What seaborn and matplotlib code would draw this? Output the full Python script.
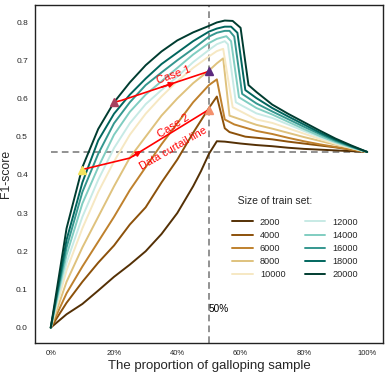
import numpy as np
import pandas as pd
import matplotlib
matplotlib.use("Agg")
import matplotlib.pyplot as plt
import seaborn as sns

# ---------------- data ----------------
sizes = ["2000", "4000", "6000", "8000", "10000", "12000", "14000", "16000", "18000", "20000"]

x_2000 = [0, 5, 10, 15, 20, 25, 30, 35, 40, 45, 47.5, 50, 52.5, 55, 60, 65, 70, 75, 80, 85, 90, 95, 100]
f1_2000 = [0, .035, .062, .097, .133, .165, .2, .245, .3, .37, .41, .455, .488, .487, .482, .478, .475, .471, .468, .466, .464, .462, .46]

x_4000 = [0, 5, 10, 15, 20, 25, 30, 35, 40, 45, 50, 52.5, 55, 56.5, 61.5, 70, 75, 80, 85, 90, 95, 100]
f1_4000 = [0, .065, .12, .17, .215, .27, .315, .38, .44, .51, .575, .605, .522, .512, .50, .493, .487, .482, .477, .472, .466, .46]

x_6000 = [0, 5, 10, 15, 20, 25, 30, 35, 40, 45, 50, 52.5, 55, 58, 65, 70, 75, 80, 85, 90, 95, 100]
f1_6000 = [0, .09, .16, .225, .29, .36, .42, .48, .535, .59, .635, .65, .545, .532, .515, .507, .497, .488, .48, .473, .466, .46]

x_8000 = [0, 5, 10, 15, 20, 25, 30, 35, 40, 45, 50, 52.5, 54.5, 56.5, 65, 70, 75, 80, 85, 90, 95, 100]
f1_8000 = [0, .12, .21, .29, .37, .445, .50, .555, .60, .64, .673, .692, .705, .555, .531, .521, .51, .499, .489, .479, .47, .46]

x_10000 = [0, 5, 10, 15, 20, 25, 30, 35, 40, 45, 50, 52.5, 54.5, 57.5, 65, 70, 75, 80, 85, 90, 95, 100]
f1_10000 = [0, .15, .26, .355, .435, .505, .56, .605, .645, .68, .71, .724, .73, .577, .545, .536, .522, .508, .494, .481, .47, .46]

x_12000 = [0, 5, 10, 15, 20, 25, 30, 35, 40, 45, 50, 52.5, 55, 56, 58.5, 65, 70, 75, 80, 85, 90, 95, 100]
f1_12000 = [0, .17, .29, .387, .47, .535, .585, .622, .657, .695, .727, .742, .75, .742, .59, .561, .549, .532, .515, .499, .484, .471, .46]

x_14000 = [0, 5, 10, 15, 20, 25, 30, 35, 40, 45, 50, 52.5, 55.5, 57, 59.5, 65, 70, 75, 80, 85, 90, 95, 100]
f1_14000 = [0, .19, .325, .42, .505, .565, .61, .645, .68, .715, .745, .756, .763, .75, .603, .575, .558, .539, .52, .502, .486, .472, .46]

x_16000 = [0, 5, 10, 15, 20, 25, 30, 35, 40, 45, 50, 52.5, 55, 56.5, 58, 60.5, 65, 70, 75, 80, 85, 90, 95, 100]
f1_16000 = [0, .21, .355, .455, .535, .59, .635, .668, .70, .73, .762, .772, .777, .777, .762, .612, .587, .566, .546, .526, .507, .489, .474, .46]

x_18000 = [0, 5, 10, 15, 20, 25, 30, 35, 40, 45, 50, 52.5, 55, 57, 59, 61.5, 65, 70, 75, 80, 85, 90, 95, 100]
f1_18000 = [0, .23, .38, .49, .56, .61, .652, .69, .72, .75, .775, .783, .788, .788, .772, .622, .601, .575, .553, .532, .511, .492, .475, .46]

x_20000 = [0, 5, 10, 15, 20, 25, 30, 35, 40, 45, 50, 52.5, 55, 57.5, 60, 62.5, 65, 70, 75, 80, 85, 90, 95, 100]
f1_20000 = [0, .26, .42, .52, .59, .642, .687, .723, .752, .773, .79, .799, .804, .803, .785, .635, .617, .584, .56, .538, .516, .495, .477, .46]

x_ticks = [0, 20, 40, 60, 80, 100]
x_tick_labels = ["0%", "20%", "40%", "60%", "80%", "100%"]
y_ticks = [0.0, 0.1, 0.2, 0.3, 0.4, 0.5, 0.6, 0.7, 0.8]

curtail_x = 50
curtail_y = 0.46

case1_x = [20, 22.4, 50]
case1_y = [0.59, 0.595, 0.671]
case2_x = [10, 25, 50]
case2_y = [0.414, 0.444, 0.571]

# BrBG (ColorBrewer, 10 classes)
palette = ["#543005", "#8c510a", "#bf812d", "#dfc27d", "#f6e8c3",
           "#c7eae5", "#80cdc1", "#35978f", "#01665e", "#003c30"]

# ---------------- build long table ----------------
xs = [x_2000, x_4000, x_6000, x_8000, x_10000, x_12000, x_14000, x_16000, x_18000, x_20000]
ys = [f1_2000, f1_4000, f1_6000, f1_8000, f1_10000, f1_12000, f1_14000, f1_16000, f1_18000, f1_20000]
frames = []
for s, xv, yv in zip(sizes, xs, ys):
    frames.append(pd.DataFrame({"proportion": xv, "f1": yv, "size": s}))
df = pd.concat(frames, ignore_index=True)

# ---------------- style ----------------
sns.set_style("white")
plt.rcParams["font.family"] = ["Liberation Sans", "DejaVu Sans"]

fig = plt.figure(figsize=(3.88, 3.76), dpi=100)
ax = fig.add_axes([0.090, 0.088, 0.897, 0.899])

sns.lineplot(data=df, x="proportion", y="f1", hue="size", hue_order=sizes,
             palette=palette, linewidth=1.4, estimator=None, sort=False, ax=ax)

# curtail lines
ax.axvline(curtail_x, color="#7f7f7f", linestyle=(0, (4, 2.5)), linewidth=1.2, zorder=1)
ax.hlines(curtail_y, 0, 100, color="#7f7f7f", linestyle=(0, (4, 2.5)), linewidth=1.2, zorder=1)

# case arrows
ax.plot(case1_x, case1_y, color="red", linewidth=1.2, zorder=4)
ax.plot(case2_x, case2_y, color="red", linewidth=1.2, zorder=4)
ax.annotate("", xy=(39.2, 0.641), xytext=(35, 0.6297),
            arrowprops=dict(arrowstyle="-|>", color="red", lw=1.2, mutation_scale=8,
                            shrinkA=0, shrinkB=0), zorder=5)
ax.annotate("", xy=(28.7, 0.463), xytext=(26, 0.449),
            arrowprops=dict(arrowstyle="-|>", color="red", lw=1.2, mutation_scale=8,
                            shrinkA=0, shrinkB=0), zorder=5)
ax.plot([case1_x[0]], [case1_y[0]], marker="^", color="#a8405f", markersize=6, linestyle="none", zorder=6)
ax.plot([case1_x[-1]], [case1_y[-1]], marker="^", color="#5c2a7e", markersize=6, linestyle="none", zorder=6)
ax.plot([case2_x[0]], [case2_y[0]], marker="^", color="#f4e35c", markersize=6, linestyle="none", zorder=6)
ax.plot([case2_x[-1]], [case2_y[-1]], marker="^", color="#f4906c", markersize=6, linestyle="none", zorder=6)

ax.text(38.7, 0.66, "Case 1", color="red", fontsize=8, rotation=20,
        ha="center", va="center", rotation_mode="anchor")
ax.text(38.9, 0.528, "Case 2", color="red", fontsize=8, rotation=32,
        ha="center", va="center", rotation_mode="anchor")
ax.text(38.9, 0.47, "Data curtail line", color="red", fontsize=7.8, rotation=30,
        ha="center", va="center", rotation_mode="anchor")
ax.text(50, 0.05, "50%", color="black", fontsize=7.2, ha="left", va="center")

# axes
ax.set_xlim(-5, 105)
ax.set_ylim(-0.04, 0.845)
ax.set_xticks(x_ticks)
ax.set_xticklabels(x_tick_labels, fontsize=5.5)
ax.set_yticks(y_ticks)
ax.set_yticklabels([f"{v:.1f}" for v in y_ticks], fontsize=6)
ax.tick_params(axis="both", length=0, pad=5)
ax.set_xlabel("The proportion of galloping sample", fontsize=9.5, labelpad=2)
ax.set_ylabel("F1-score", fontsize=8.8, labelpad=3)
for sp in ax.spines.values():
    sp.set_color("#222222")
    sp.set_linewidth(1.0)

leg = ax.legend(title="  Size of train set:", ncol=2, frameon=False, fontsize=6.6,
                title_fontsize=7.5, loc="upper left", bbox_to_anchor=(0.557, 0.444),
                borderaxespad=0, handlelength=2.2, columnspacing=2.1,
                labelspacing=0.45, handletextpad=0.8, alignment="left")
leg._legend_box.sep = 8
for line in leg.get_lines():
    line.set_linewidth(1.4)

fig.savefig("out.png", dpi=100)
